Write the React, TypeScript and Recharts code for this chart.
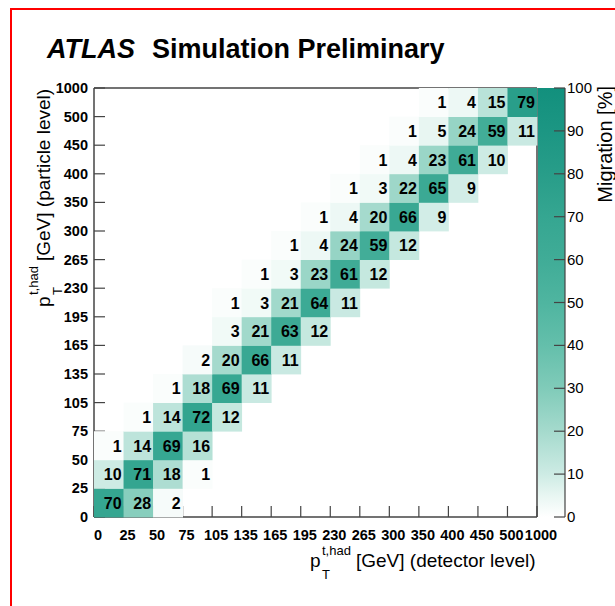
import React from 'react';
import { ScatterChart, Scatter, XAxis, YAxis, BarChart, Bar } from 'recharts';

// bin edges in GeV, shared by both axes
const BIN_EDGES = ['0', '25', '50', '75', '105', '135', '165', '195', '230', '265', '300', '350', '400', '450', '500', '1000'];
const EDGE_INDEX = BIN_EDGES.map((_, i) => i);

// migration [%], one row per particle-level bin (bottom to top), columns = detector-level bins
const MIGRATION: number[][] = [
  [70, 28, 2, 0, 0, 0, 0, 0, 0, 0, 0, 0, 0, 0, 0],
  [10, 71, 18, 1, 0, 0, 0, 0, 0, 0, 0, 0, 0, 0, 0],
  [1, 14, 69, 16, 0, 0, 0, 0, 0, 0, 0, 0, 0, 0, 0],
  [0, 1, 14, 72, 12, 0, 0, 0, 0, 0, 0, 0, 0, 0, 0],
  [0, 0, 1, 18, 69, 11, 0, 0, 0, 0, 0, 0, 0, 0, 0],
  [0, 0, 0, 2, 20, 66, 11, 0, 0, 0, 0, 0, 0, 0, 0],
  [0, 0, 0, 0, 3, 21, 63, 12, 0, 0, 0, 0, 0, 0, 0],
  [0, 0, 0, 0, 1, 3, 21, 64, 11, 0, 0, 0, 0, 0, 0],
  [0, 0, 0, 0, 0, 1, 3, 23, 61, 12, 0, 0, 0, 0, 0],
  [0, 0, 0, 0, 0, 0, 1, 4, 24, 59, 12, 0, 0, 0, 0],
  [0, 0, 0, 0, 0, 0, 0, 1, 4, 20, 66, 9, 0, 0, 0],
  [0, 0, 0, 0, 0, 0, 0, 0, 1, 3, 22, 65, 9, 0, 0],
  [0, 0, 0, 0, 0, 0, 0, 0, 0, 1, 4, 23, 61, 10, 0],
  [0, 0, 0, 0, 0, 0, 0, 0, 0, 0, 1, 5, 24, 59, 11],
  [0, 0, 0, 0, 0, 0, 0, 0, 0, 0, 0, 1, 4, 15, 79],
];

const SCALE_TICKS = [0, 10, 20, 30, 40, 50, 60, 70, 80, 90, 100];

// white -> teal palette (value in %, colour)
const PALETTE: [number, string][] = [
  [0, '#ffffff'], [5, '#e8f6f2'], [10, '#cdebe4'], [20, '#a5dacd'], [30, '#80cbb9'],
  [40, '#64bfab'], [50, '#4fb5a0'], [60, '#40ac97'], [70, '#35a691'], [80, '#289d89'],
  [90, '#1c9683'], [100, '#12907d'],
];

const W = 615;
const H = 606;
// plot area: x 94..537, y 88..517
const PLOT_MARGIN = { top: 88, right: 78, bottom: 89, left: 94 };
// same area when the visible axes each take 1px
const AXIS_MARGIN = { top: 87, right: 77, bottom: 88, left: 93 };
const NBINS = 15;
const CELL_W = (W - PLOT_MARGIN.left - PLOT_MARGIN.right) / NBINS;
const CELL_H = (H - PLOT_MARGIN.top - PLOT_MARGIN.bottom) / NBINS;
const AXIS = '#444';
const FONT = '"Liberation Sans", Arial, Helvetica, sans-serif';

const hex = (c: string) => [1, 3, 5].map((i) => parseInt(c.slice(i, i + 2), 16));
const colorFor = (v: number) => {
  for (let i = 1; i < PALETTE.length; i++) {
    const [v0, c0] = PALETTE[i - 1];
    const [v1, c1] = PALETTE[i];
    if (v <= v1) {
      const t = (v - v0) / (v1 - v0);
      const a = hex(c0), b = hex(c1);
      return `rgb(${a.map((x, k) => Math.round(x + (b[k] - x) * t)).join(',')})`;
    }
  }
  return PALETTE[PALETTE.length - 1][1];
};

const cells = MIGRATION.flatMap((row, r) =>
  row.map((v, c) => ({ x: c + 0.5, y: r + 0.5, v })).filter((d) => d.v > 0)
);

const CellShape = (props: any) => {
  const { cx, cy, payload } = props;
  return (
    <g>
      <rect x={cx - CELL_W / 2} y={cy - CELL_H / 2} width={CELL_W + 0.4} height={CELL_H + 0.4} fill={colorFor(payload.v)} />
      <text x={cx + CELL_W / 2 - 2} y={cy + 6} textAnchor="end" fontFamily={FONT} fontWeight="bold" fontSize={16} fill="#000">
        {payload.v}
      </text>
    </g>
  );
};

const NoShape = () => <g />;

const XTick = ({ x, y, payload }: any) => (
  <g>
    <line x1={x} x2={x} y1={y} y2={y - 11} stroke={AXIS} strokeWidth={1.2} />
    <text x={x + 4} y={y + 23} textAnchor="middle" fontFamily={FONT} fontWeight="bold" fontSize={14.5} fill="#000">
      {BIN_EDGES[payload.value]}
    </text>
  </g>
);

const YTick = ({ x, y, payload }: any) => (
  <g>
    <line x1={x} x2={x + 11} y1={y} y2={y} stroke={AXIS} strokeWidth={1.2} />
    <text x={x - 6} y={y + 5} textAnchor="end" fontFamily={FONT} fontWeight="bold" fontSize={14.5} fill="#000">
      {BIN_EDGES[payload.value]}
    </text>
  </g>
);

const ScaleTick = ({ x, y, payload }: any) => (
  <g>
    <line x1={x} x2={x - 11} y1={y} y2={y} stroke={AXIS} strokeWidth={1.2} />
    <text x={x + 2} y={y + 5} textAnchor="start" fontFamily={FONT} fontSize={15} fill="#000">
      {payload.value}
    </text>
  </g>
);

const scaleData = [{ name: 'migration', v: 100 }];

export default function App() {
  const abs: React.CSSProperties = { position: 'absolute', left: 0, top: 0 };
  return (
    <div style={{ position: 'absolute', left: 0, top: 0, width: W, height: H, overflow: 'hidden', background: '#fff', fontFamily: FONT }}>
      <div style={{ position: 'absolute', left: 10, top: 8, right: -10, bottom: -10, borderLeft: '2px solid #ff0000', borderTop: '2px solid #ff0000' }} />

      {/* frame and ticks, drawn underneath the cells */}
      <div style={abs}>
        <ScatterChart width={W} height={H} margin={AXIS_MARGIN}>
          <XAxis xAxisId="b" type="number" dataKey="x" domain={[0, NBINS]} ticks={EDGE_INDEX} interval={0}
            height={1} tickSize={0} tickMargin={0} tickLine={false} tick={<XTick />} axisLine={{ stroke: AXIS, strokeWidth: 1.5 }} />
          <XAxis xAxisId="t" orientation="top" type="number" dataKey="x" domain={[0, NBINS]} height={1}
            tick={false} tickLine={false} axisLine={{ stroke: AXIS, strokeWidth: 1.5 }} />
          <YAxis yAxisId="l" type="number" dataKey="y" domain={[0, NBINS]} ticks={EDGE_INDEX} interval={0}
            width={1} tickSize={0} tickMargin={0} tickLine={false} tick={<YTick />} axisLine={{ stroke: AXIS, strokeWidth: 1.5 }} />
          <YAxis yAxisId="r" orientation="right" type="number" dataKey="y" domain={[0, NBINS]} width={1}
            tick={false} tickLine={false} axisLine={{ stroke: AXIS, strokeWidth: 1.5 }} />
          <Scatter xAxisId="b" yAxisId="l" data={cells} shape={<NoShape />} isAnimationActive={false} />
          <Scatter xAxisId="t" yAxisId="r" data={cells} shape={<NoShape />} isAnimationActive={false} />
        </ScatterChart>
      </div>

      {/* migration cells */}
      <div style={abs}>
        <ScatterChart width={W} height={H} margin={PLOT_MARGIN}>
          <XAxis type="number" dataKey="x" domain={[0, NBINS]} hide />
          <YAxis type="number" dataKey="y" domain={[0, NBINS]} hide />
          <Scatter data={cells} shape={<CellShape />} isAnimationActive={false} />
        </ScatterChart>
      </div>

      <div style={abs}>
        <BarChart width={W} height={H} data={scaleData} margin={{ top: 88, bottom: 89, left: 538, right: 49 }} barCategoryGap={0}>
          <defs>
            <linearGradient id="scaleGrad" x1="0" y1="1" x2="0" y2="0">
              {PALETTE.map(([v, c]) => (
                <stop key={v} offset={`${v}%`} stopColor={c} />
              ))}
            </linearGradient>
          </defs>
          <XAxis dataKey="name" hide />
          <YAxis orientation="right" type="number" domain={[0, 100]} ticks={SCALE_TICKS} interval={0} width={1}
            tickSize={0} tickMargin={0} tickLine={false} tick={<ScaleTick />} axisLine={{ stroke: AXIS, strokeWidth: 1.2 }} />
          <Bar dataKey="v" fill="url(#scaleGrad)" isAnimationActive={false} />
        </BarChart>
      </div>

      <svg width={W} height={H} style={{ ...abs, pointerEvents: 'none' }} fontFamily={FONT}>
        <text x={47} y={58} fontSize={27} fontWeight="bold" fontStyle="italic">ATLAS</text>
        <text x={152} y={58} fontSize={27} fontWeight="bold">Simulation Preliminary</text>

        <g transform="translate(310, 567)">
          <text x={0} y={0} fontSize={19}>p</text>
          <text x={12} y={-12} fontSize={13}>t,had</text>
          <text x={12} y={12} fontSize={13}>T</text>
          <text x={46} y={0} fontSize={19}>[GeV] (detector level)</text>
        </g>

        <g transform="translate(50, 307) rotate(-90)">
          <text x={0} y={0} fontSize={19}>p</text>
          <text x={12} y={-12} fontSize={13}>t,had</text>
          <text x={12} y={12} fontSize={13}>T</text>
          <text x={46} y={0} fontSize={19}>[GeV] (particle level)</text>
        </g>

        <text transform="translate(612, 86) rotate(-90)" x={0} y={0} textAnchor="end" fontSize={20}>Migration [%]</text>
      </svg>
    </div>
  );
}
